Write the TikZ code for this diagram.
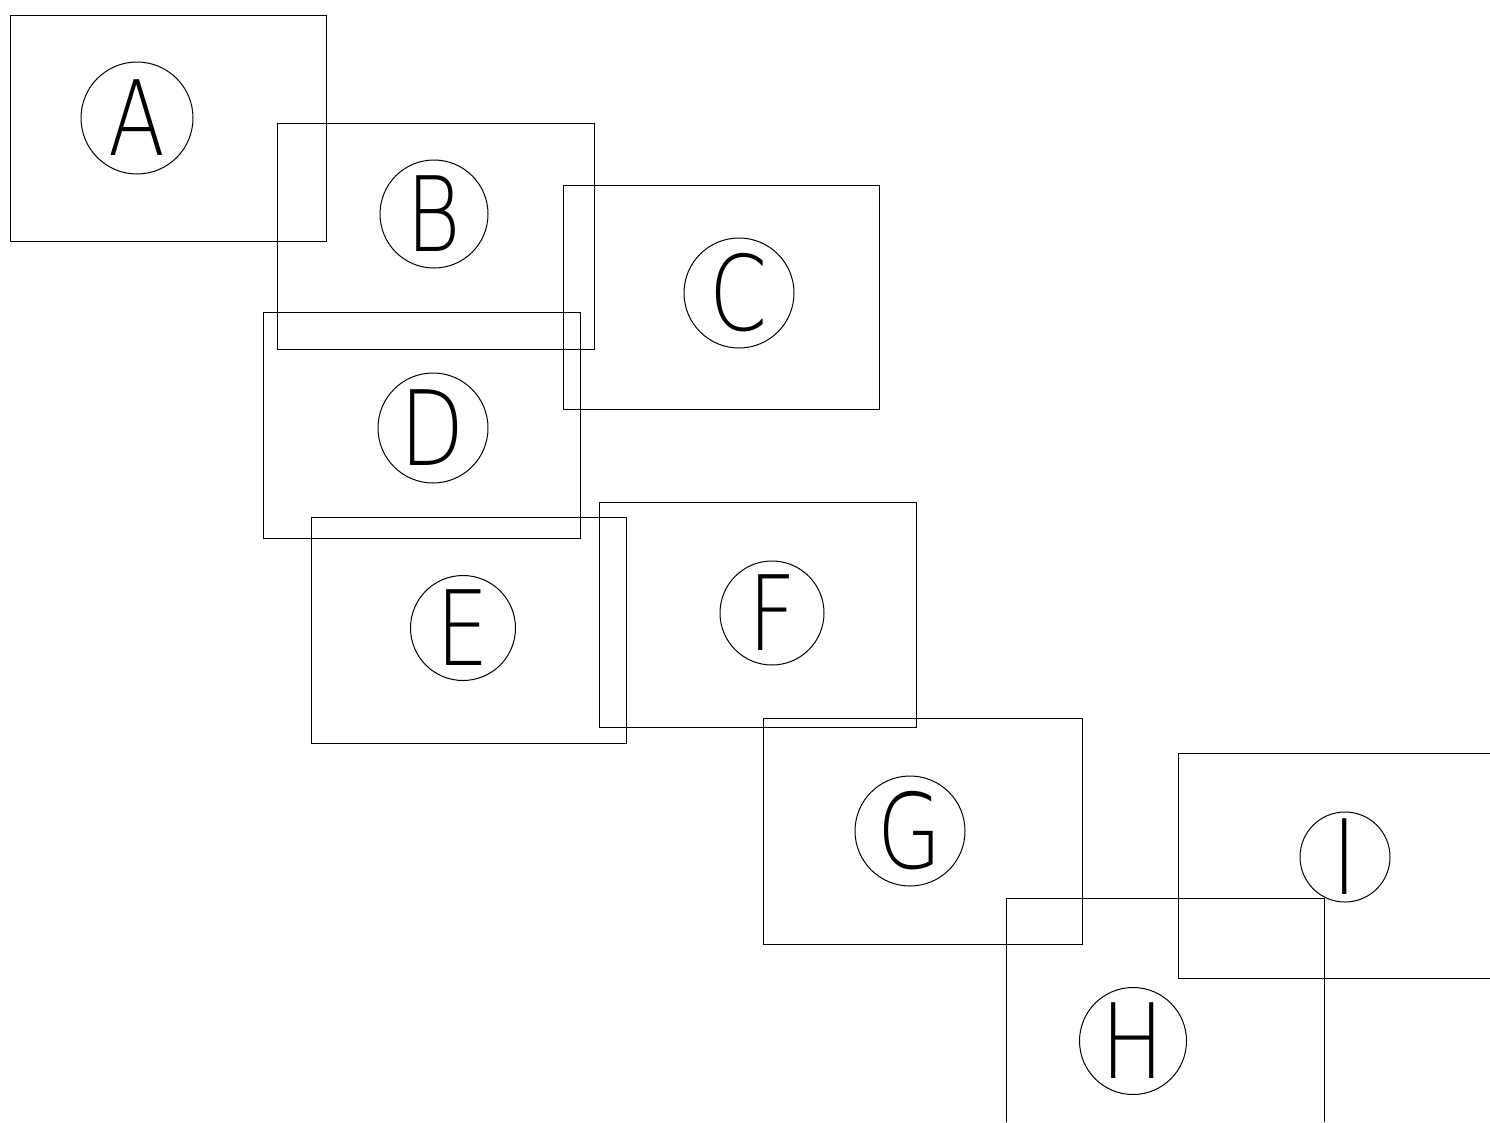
\documentclass[tikz,border=0pt]{standalone}
\usepackage{fontspec}
\IfFontExistsTF{DejaVuSans-ExtraLight.ttf}
  {\newfontfamily\hairfont{DejaVuSans-ExtraLight.ttf}}
  {\IfFontExistsTF{DejaVu Sans ExtraLight}
    {\newfontfamily\hairfont{DejaVu Sans ExtraLight}}
    {\newfontfamily\hairfont{Liberation Sans}}}
\begin{document}
\begin{tikzpicture}[x=1pt,y=-1pt,
  frame/.style={draw=black,line width=1pt},
  ring/.style={draw=black,line width=1pt,circle,inner sep=0pt},
  letter/.style={inner sep=0pt,font=\hairfont\fontsize{104}{104}\selectfont,xscale=0.8}]
\useasboundingbox[fill=white] (0,0) rectangle (1490,1122);
% frames
\draw[frame] (10,15) rectangle (326,241);
\draw[frame] (277,123) rectangle (594,349);
\draw[frame] (563,185) rectangle (879,409);
\draw[frame] (263,312) rectangle (580,538);
\draw[frame] (311,517) rectangle (626,743);
\draw[frame] (599,502) rectangle (916,727);
\draw[frame] (763,718) rectangle (1082,944);
\coordinate (hbl) at (1006,1122);
\coordinate (hbr) at (1324,1122);
\draw[frame] (hbl) -- (1006,898) -- (1324,898) -- (hbr);
\coordinate (itr) at (1490,753);
\coordinate (ibr) at (1490,978);
\draw[frame] (itr) -- (1178,753) -- (1178,978) -- (ibr);
% circles
\node[ring,minimum size=112pt] (cA) at (137,118) {};
\node[ring,minimum size=108pt] (cB) at (434,214) {};
\node[ring,minimum size=110pt] (cC) at (739,293) {};
\node[ring,minimum size=110pt] (cD) at (433,428) {};
\node[ring,minimum size=105pt] (cE) at (463,628) {};
\node[ring,minimum size=104pt] (cF) at (772,613) {};
\node[ring,minimum size=110pt] (cG) at (910,831) {};
\node[ring,minimum size=107pt] (cH) at (1133,1041) {};
\node[ring,minimum size=90pt] (cI) at (1345,857) {};
% letters
\node[letter] (lA) at (cA) {A};
\node[letter] (lB) at (cB) {B};
\node[letter] (lC) at (cC) {C};
\node[letter] (lD) at (cD) {D};
\node[letter] (lE) at (cE) {E};
\node[letter] (lF) at (cF) {F};
\node[letter] (lG) at (cG) {G};
\node[letter] (lH) at (cH) {H};
\node[letter] (lI) at (cI) {I};
\end{tikzpicture}
\end{document}
